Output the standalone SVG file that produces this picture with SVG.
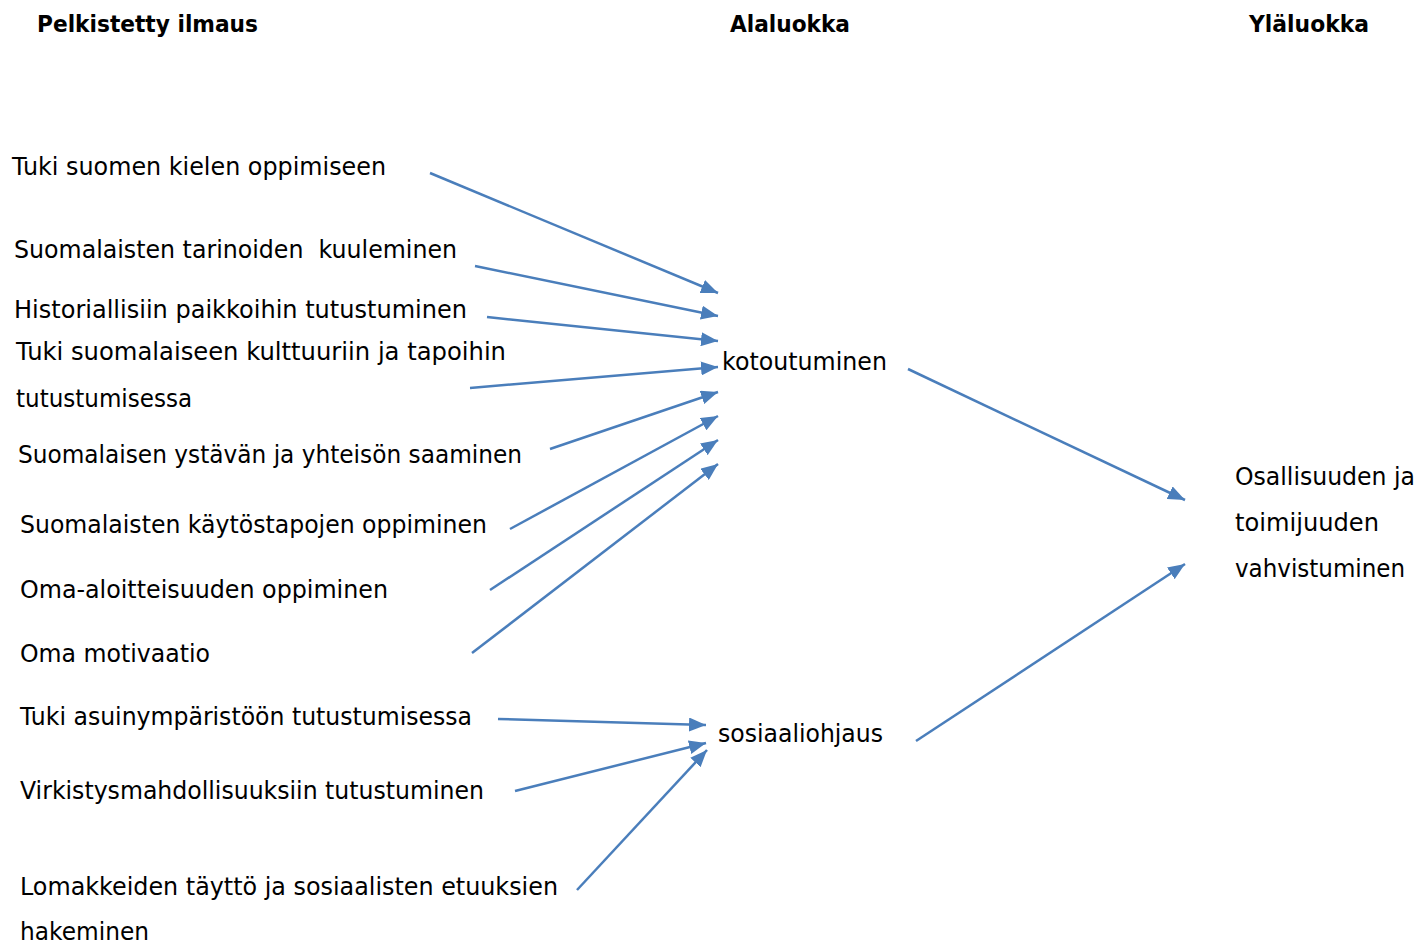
<svg xmlns="http://www.w3.org/2000/svg" width="1423" height="946" viewBox="0 0 1423 946">
  <style>
    text { font-family: "DejaVu Sans", "Liberation Sans", sans-serif; font-size: 24px; fill: #000; }
    .hdr { font-weight: bold; font-size: 23px; }
    .conn line { stroke: #4A7EBB; stroke-width: 2.5; fill: none; marker-end: url(#ah); }
  </style>
  <defs>
    <marker id="ah" viewBox="0 0 10 10" refX="10" refY="5" markerWidth="17" markerHeight="14" orient="auto" markerUnits="userSpaceOnUse" preserveAspectRatio="none">
      <path d="M0,0 L10,5 L0,10 z" fill="#4A7EBB"/>
    </marker>
  </defs>
  <rect width="1423" height="946" fill="#fff"/>

  <!-- column headers -->
  <g id="headers">
    <text class="hdr" x="37" y="32" textLength="221" lengthAdjust="spacingAndGlyphs">Pelkistetty ilmaus</text>
    <text class="hdr" x="730" y="32" textLength="120" lengthAdjust="spacingAndGlyphs">Alaluokka</text>
    <text class="hdr" x="1249" y="32" textLength="120" lengthAdjust="spacingAndGlyphs">Yläluokka</text>
  </g>

  <!-- reduced expressions -->
  <g id="n1"><text x="12" y="175" textLength="374" lengthAdjust="spacingAndGlyphs">Tuki suomen kielen oppimiseen</text></g>
  <g id="n2"><text x="14" y="258" textLength="443" lengthAdjust="spacingAndGlyphs" xml:space="preserve">Suomalaisten tarinoiden  kuuleminen</text></g>
  <g id="n3"><text x="14" y="318" textLength="453" lengthAdjust="spacingAndGlyphs">Historiallisiin paikkoihin tutustuminen</text></g>
  <g id="n4">
    <text x="16" y="360" textLength="490" lengthAdjust="spacingAndGlyphs">Tuki suomalaiseen kulttuuriin ja tapoihin</text>
    <text x="16" y="407" textLength="176" lengthAdjust="spacingAndGlyphs">tutustumisessa</text>
  </g>
  <g id="n5"><text x="18" y="463" textLength="504" lengthAdjust="spacingAndGlyphs">Suomalaisen ystävän ja yhteisön saaminen</text></g>
  <g id="n6"><text x="20" y="533" textLength="467" lengthAdjust="spacingAndGlyphs">Suomalaisten käytöstapojen oppiminen</text></g>
  <g id="n7"><text x="20" y="598" textLength="368" lengthAdjust="spacingAndGlyphs">Oma-aloitteisuuden oppiminen</text></g>
  <g id="n8"><text x="20" y="662" textLength="190" lengthAdjust="spacingAndGlyphs">Oma motivaatio</text></g>
  <g id="n9"><text x="20" y="725" textLength="452" lengthAdjust="spacingAndGlyphs">Tuki asuinympäristöön tutustumisessa</text></g>
  <g id="n10"><text x="20" y="799" textLength="464" lengthAdjust="spacingAndGlyphs">Virkistysmahdollisuuksiin tutustuminen</text></g>
  <g id="n11">
    <text x="20" y="895" textLength="538" lengthAdjust="spacingAndGlyphs">Lomakkeiden täyttö ja sosiaalisten etuuksien</text>
    <text x="20" y="940" textLength="129" lengthAdjust="spacingAndGlyphs">hakeminen</text>
  </g>

  <!-- subcategories -->
  <g id="kotoutuminen"><text x="722" y="370" textLength="165" lengthAdjust="spacingAndGlyphs">kotoutuminen</text></g>
  <g id="sosiaaliohjaus"><text x="718" y="742" textLength="165" lengthAdjust="spacingAndGlyphs">sosiaaliohjaus</text></g>

  <!-- main category -->
  <g id="osallisuus">
    <text x="1235" y="485" textLength="180" lengthAdjust="spacingAndGlyphs">Osallisuuden ja</text>
    <text x="1235" y="531" textLength="144" lengthAdjust="spacingAndGlyphs">toimijuuden</text>
    <text x="1235" y="577" textLength="170" lengthAdjust="spacingAndGlyphs">vahvistuminen</text>
  </g>

  <!-- connectors -->
  <g id="connectors" class="conn">
    <line x1="430" y1="173" x2="718" y2="293"/>
    <line x1="475" y1="266" x2="718" y2="316"/>
    <line x1="487" y1="317" x2="718" y2="341"/>
    <line x1="470" y1="388" x2="718" y2="367"/>
    <line x1="550" y1="449" x2="718" y2="392"/>
    <line x1="510" y1="529" x2="718" y2="416"/>
    <line x1="490" y1="590" x2="718" y2="440"/>
    <line x1="472" y1="653" x2="718" y2="464"/>
    <line x1="498" y1="719" x2="706" y2="725"/>
    <line x1="515" y1="791" x2="706" y2="743"/>
    <line x1="577" y1="890" x2="707" y2="750"/>
    <line x1="908" y1="369" x2="1185" y2="500"/>
    <line x1="916" y1="741" x2="1185" y2="564"/>
  </g>
</svg>
